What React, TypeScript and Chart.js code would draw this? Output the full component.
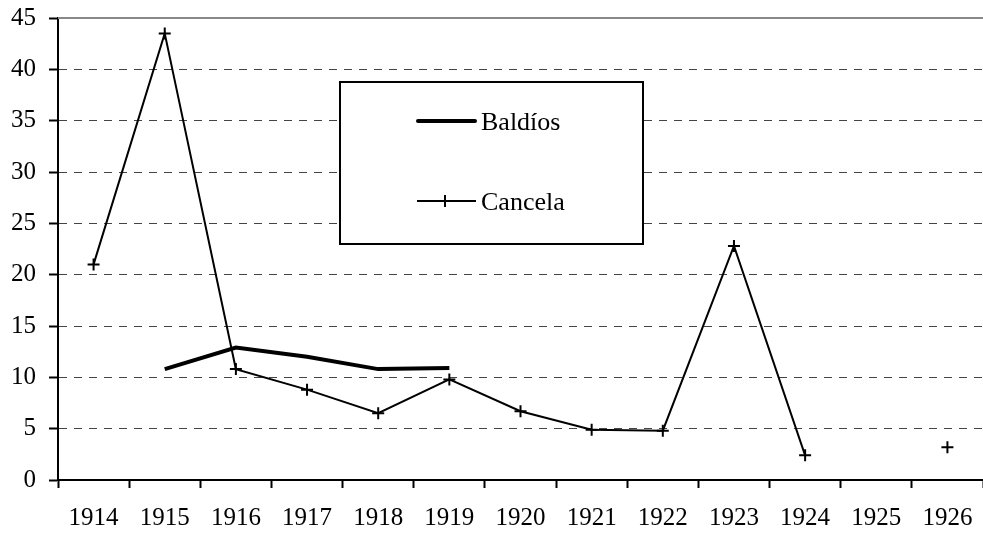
import React, { useEffect, useRef } from "react";
import { Chart, registerables } from "chart.js";

Chart.register(...registerables);

const years = ["1914", "1915", "1916", "1917", "1918", "1919", "1920", "1921", "1922", "1923", "1924", "1925", "1926"];
const baldios = [null, 10.8, 12.9, 12.0, 10.8, 10.9, null, null, null, null, null, null, null];
const cancela = [21.0, 43.5, 10.8, 8.8, 6.5, 9.8, 6.7, 4.9, 4.8, 22.8, 2.4, null, 3.2];
const yTicks = [0, 5, 10, 15, 20, 25, 30, 35, 40, 45];

const FONT = "'Liberation Serif', 'Times New Roman', serif";

const overlayPlugin = {
  id: "overlay",
  afterDraw(chart: any) {
    const { ctx, chartArea } = chart;
    const y = chart.scales.y;
    ctx.save();
    const yTop = y.getPixelForValue(45);
    ctx.strokeStyle = "#888";
    ctx.lineWidth = 2;
    ctx.beginPath();
    ctx.moveTo(chartArea.left, yTop);
    ctx.lineTo(chartArea.right, yTop);
    ctx.stroke();

    const bx = 340, by = 82, bw = 303, bh = 162;
    ctx.fillStyle = "#fff";
    ctx.fillRect(bx, by, bw, bh);
    ctx.strokeStyle = "#000";
    ctx.lineWidth = 2;
    ctx.strokeRect(bx, by, bw, bh);

    ctx.lineCap = "round";
    ctx.lineWidth = 4;
    ctx.beginPath();
    ctx.moveTo(418, 121);
    ctx.lineTo(475, 121);
    ctx.stroke();

    ctx.lineCap = "butt";
    ctx.lineWidth = 2;
    ctx.beginPath();
    ctx.moveTo(417, 201);
    ctx.lineTo(476, 201);
    ctx.moveTo(445, 195);
    ctx.lineTo(445, 207);
    ctx.stroke();

    ctx.fillStyle = "#000";
    ctx.font = "26px " + FONT;
    ctx.textBaseline = "middle";
    ctx.textAlign = "left";
    ctx.fillText("Baldíos", 481, 123);
    ctx.fillText("Cancela", 481, 203);
    ctx.restore();
  },
};

export default function App() {
  const ref = useRef<HTMLCanvasElement>(null);
  useEffect(() => {
    const chart = new Chart(ref.current as HTMLCanvasElement, {
      type: "line",
      data: {
        labels: years,
        datasets: [
          {
            label: "Baldíos",
            data: baldios,
            borderColor: "#000",
            borderWidth: 4,
            pointRadius: 0,
            spanGaps: false,
            tension: 0,
          },
          {
            label: "Cancela",
            data: cancela,
            borderColor: "#000",
            backgroundColor: "#000",
            borderWidth: 2,
            pointStyle: "cross",
            pointRadius: 6,
            pointBorderWidth: 2,
            spanGaps: false,
            tension: 0,
          },
        ],
      },
      options: {
        responsive: false,
        animation: false,
        layout: { autoPadding: false, padding: { top: 18, left: 0, right: 0, bottom: 0 } },
        plugins: { legend: { display: false }, tooltip: { enabled: false } },
        scales: {
          x: {
            offset: true,
            grid: {
              offset: true,
              drawOnChartArea: false,
              drawTicks: true,
              tickLength: 8,
              tickColor: "#000",
              tickWidth: 2,
            },
            border: { color: "#000", width: 2 },
            ticks: { color: "#000", font: { family: FONT, size: 25 }, padding: 15, maxRotation: 0, autoSkip: false },
            afterFit(scale: any) {
              scale.height = 53;
              scale.paddingLeft = 0;
              scale.paddingRight = 0;
            },
          },
          y: {
            min: 0,
            max: 45,
            afterBuildTicks(scale: any) {
              scale.ticks = yTicks.map((v) => ({ value: v }));
            },
            grid: {
              color: (c: any) => (c.tick && (c.tick.value === 0 || c.tick.value === 45) ? "rgba(0,0,0,0)" : "#444"),
              lineWidth: 1,
              drawTicks: true,
              tickLength: 9,
              tickColor: "#000",
              tickWidth: 2,
            },
            border: { color: "#000", width: 2, dash: [8, 7] },
            ticks: { color: "#000", font: { family: FONT, size: 25 }, padding: 13 },
            afterFit(scale: any) {
              scale.width = 58;
              scale.paddingTop = 0;
              scale.paddingBottom = 0;
            },
          },
        },
      },
      plugins: [overlayPlugin],
    });
    return () => chart.destroy();
  }, []);
  return (
    <div style={{ position: "absolute", left: 0, top: 0, width: 983, height: 533, background: "#fff" }}>
      <canvas ref={ref} width={983} height={533} style={{ display: "block" }} />
    </div>
  );
}
